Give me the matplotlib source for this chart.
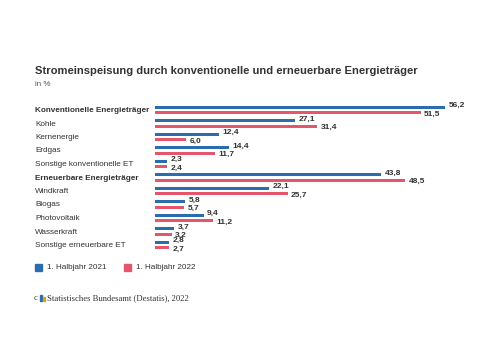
import matplotlib
matplotlib.use('Agg')
import matplotlib.pyplot as plt
from matplotlib.patches import Rectangle

# data
categories = ['Konventionelle Energieträger', 'Kohle', 'Kernenergie', 'Erdgas',
              'Sonstige konventionelle ET', 'Erneuerbare Energieträger', 'Windkraft',
              'Biogas', 'Photovoltaik', 'Wasserkraft', 'Sonstige erneuerbare ET']
bold_rows = [0, 5]
h1_2021 = [56.2, 27.1, 12.4, 14.4, 2.3, 43.8, 22.1, 5.8, 9.4, 3.7, 2.8]
h1_2022 = [51.5, 31.4, 6.0, 11.7, 2.4, 48.5, 25.7, 5.7, 11.2, 3.2, 2.7]
series_names = ['1. Halbjahr 2021', '1. Halbjahr 2022']

plt.rcParams['font.family'] = ['Liberation Sans', 'DejaVu Sans']

blue = '#2b6cb0'
pink = '#e5566d'
txt = '#333333'

W, H = 500, 353
fig = plt.figure(figsize=(W / 100, H / 100), dpi=100)
fig.patch.set_facecolor('white')

row_h = 13.5
top_px = 110 - row_h / 2
n = len(categories)
ax = fig.add_axes([155 / W, 1 - (top_px + n * row_h) / H, 290 / W, n * row_h / H])
ax.set_xlim(0, 56.2)
ax.set_ylim(n - 0.5, -0.5)
ax.axis('off')

ys = list(range(n))
bh = 0.22
ax.barh([y - 0.21 for y in ys], h1_2021, height=bh, color=blue)
ax.barh([y + 0.2 for y in ys], h1_2022, height=bh, color=pink)

for y, v in zip(ys, h1_2021):
    ax.annotate(f'{v:.1f}'.replace('.', ','), (v, y - 0.21), xytext=(2.5, 1),
                textcoords='offset points', va='center', ha='left',
                fontsize=6, fontweight='bold', color=txt)
for y, v in zip(ys, h1_2022):
    ax.annotate(f'{v:.1f}'.replace('.', ','), (v, y + 0.2), xytext=(2.5, -1),
                textcoords='offset points', va='center', ha='left',
                fontsize=6, fontweight='bold', color=txt)

# category labels
for i, c in enumerate(categories):
    fig.text(35 / W, 1 - (110.5 + i * row_h) / H, c, fontsize=5.9,
             fontweight='bold' if i in bold_rows else 'normal',
             color=txt, va='center', ha='left')

# title
fig.text(35 / W, 1 - 71 / H, 'Stromeinspeisung durch konventionelle und erneuerbare Energieträger',
         fontsize=8.1, fontweight='bold', color=txt, va='center', ha='left')
fig.text(35 / W, 1 - 84 / H, 'in %', fontsize=5.8, color='#555555', va='center', ha='left')

# legend
for x0, col, name in [(35, blue, series_names[0]), (124, pink, series_names[1])]:
    fig.patches.append(Rectangle((x0 / W, 1 - 271 / H), 7 / W, 7 / H,
                                 transform=fig.transFigure, color=col))
    fig.text((x0 + 12) / W, 1 - 267.5 / H, name, fontsize=5.9, color=txt,
             va='center', ha='left')

# source line
fig.text(34 / W, 1 - 298 / H, 'c', fontsize=6, color=txt, family='Liberation Serif',
         va='center', ha='left')
fig.patches.append(Rectangle((40 / W, 1 - 301 / H), 2 / W, 6 / H,
                             transform=fig.transFigure, color='#2b6cb0'))
fig.patches.append(Rectangle((43 / W, 1 - 301 / H), 2 / W, 4 / H,
                             transform=fig.transFigure, color='#d9a21b'))
fig.text(47 / W, 1 - 298 / H, 'Statistisches Bundesamt (Destatis), 2022', fontsize=6.2,
         color=txt, family='Liberation Serif', va='center', ha='left')

fig.savefig('out.png', dpi=100, facecolor='white')
